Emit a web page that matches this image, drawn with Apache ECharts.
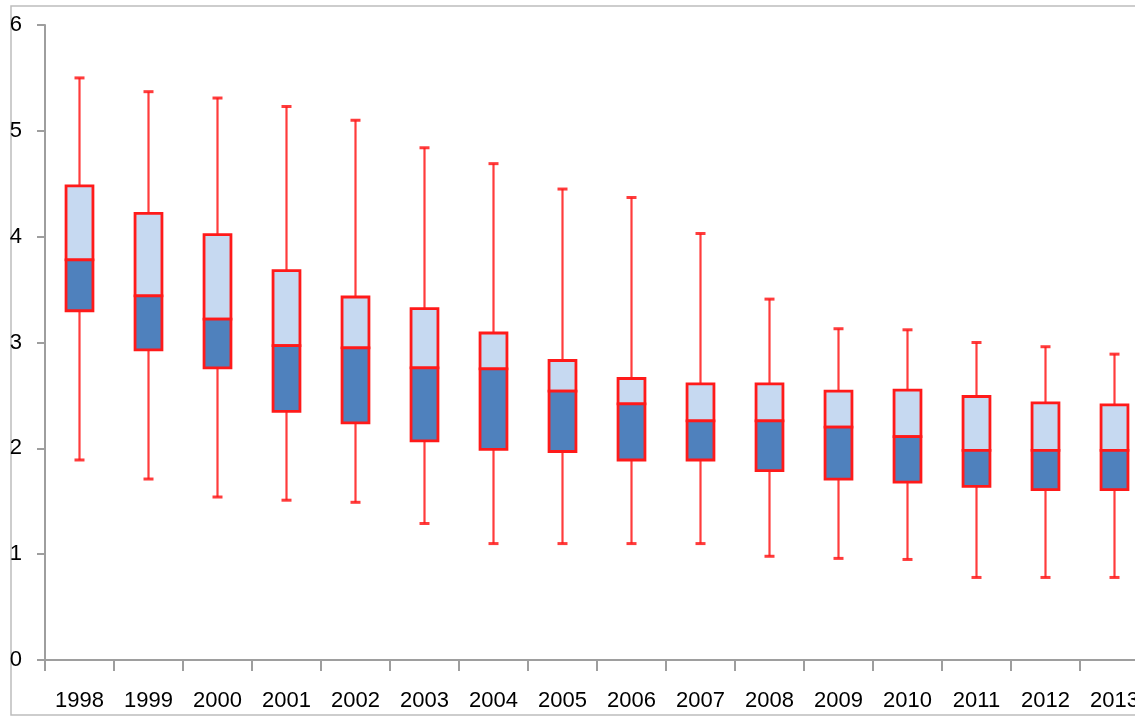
<!DOCTYPE html>
<html>
<head>
<meta charset="utf-8">
<script src="https://cdn.jsdelivr.net/npm/echarts@6/dist/echarts.min.js"></script>
<style>
  html, body { margin: 0; padding: 0; background: #fff; }
  #chart { width: 1135px; height: 718px; }
</style>
</head>
<body>
<div id="chart"></div>
<script>
// years on the x axis
var years = ['1998', '1999', '2000', '2001', '2002', '2003', '2004', '2005',
             '2006', '2007', '2008', '2009', '2010', '2011', '2012', '2013'];
// five-number summary per year
var lowValues    = [1.89, 1.71, 1.54, 1.51, 1.49, 1.29, 1.10, 1.10, 1.10, 1.10, 0.98, 0.96, 0.95, 0.78, 0.78, 0.78];
var q1Values     = [3.30, 2.93, 2.76, 2.35, 2.24, 2.07, 1.99, 1.97, 1.89, 1.89, 1.79, 1.71, 1.68, 1.64, 1.61, 1.61];
var medianValues = [3.78, 3.44, 3.22, 2.97, 2.95, 2.76, 2.75, 2.54, 2.42, 2.26, 2.26, 2.20, 2.11, 1.98, 1.98, 1.98];
var q3Values     = [4.48, 4.22, 4.02, 3.68, 3.43, 3.32, 3.09, 2.83, 2.66, 2.61, 2.61, 2.54, 2.55, 2.49, 2.43, 2.41];
var highValues   = [5.50, 5.37, 5.31, 5.23, 5.10, 4.84, 4.69, 4.45, 4.37, 4.03, 3.41, 3.13, 3.12, 3.00, 2.96, 2.89];
// y axis ticks
var yTicks = [0, 1, 2, 3, 4, 5, 6];

var RED = '#ff1a1a';
var DARK = '#4f81bd';
var LIGHT = '#c6d9f1';

var boxData = [];
for (var i = 0; i < years.length; i++) {
    boxData.push([i, lowValues[i], q1Values[i], medianValues[i], q3Values[i], highValues[i]]);
}

// draws whiskers + two-colour box for one year
function renderBox(params, api) {
    var x = api.value(0);
    var pLow = api.coord([x, api.value(1)]);
    var pQ1 = api.coord([x, api.value(2)]);
    var pMed = api.coord([x, api.value(3)]);
    var pQ3 = api.coord([x, api.value(4)]);
    var pHigh = api.coord([x, api.value(5)]);
    var w = api.size([1, 0])[0] * 0.39;
    var cap = 10;
    var cx = pMed[0];
    var lineStyle = { stroke: RED, lineWidth: 2.2, opacity: 0.85 };
    var capStyle = { stroke: RED, lineWidth: 3, opacity: 0.85 };
    return {
        type: 'group',
        children: [
            { type: 'line', shape: { x1: cx, y1: pHigh[1], x2: cx, y2: pQ3[1] }, style: lineStyle },
            { type: 'line', shape: { x1: cx, y1: pQ1[1], x2: cx, y2: pLow[1] }, style: lineStyle },
            { type: 'line', shape: { x1: cx - cap / 2, y1: pHigh[1], x2: cx + cap / 2, y2: pHigh[1] }, style: capStyle },
            { type: 'line', shape: { x1: cx - cap / 2, y1: pLow[1], x2: cx + cap / 2, y2: pLow[1] }, style: capStyle },
            { type: 'rect', shape: { x: cx - w / 2, y: pQ3[1], width: w, height: pMed[1] - pQ3[1] },
              style: { fill: LIGHT, stroke: RED, lineWidth: 2.8 } },
            { type: 'rect', shape: { x: cx - w / 2, y: pMed[1], width: w, height: pQ1[1] - pMed[1] },
              style: { fill: DARK, stroke: RED, lineWidth: 2.8 } }
        ]
    };
}

var myChart = echarts.init(document.getElementById('chart'));
var option = {
    animation: false,
    backgroundColor: '#fff',
    graphic: [{
        type: 'rect',
        shape: { x: 11, y: 6, width: 1135, height: 709 },
        style: { fill: 'none', stroke: '#bdbdbd', lineWidth: 1.5 },
        silent: true
    }],
    grid: { left: 45, width: 1104, top: 25, bottom: 58, outerBoundsMode: 'none' },
    xAxis: {
        type: 'category',
        data: years,
        boundaryGap: true,
        axisLine: { lineStyle: { color: '#9e9e9e', width: 2 } },
        axisTick: { show: true, alignWithLabel: false, length: 11, lineStyle: { color: '#9e9e9e', width: 2 } },
        axisLabel: { color: '#000', fontSize: 22, fontFamily: 'Liberation Sans', margin: 30 },
        splitLine: { show: false }
    },
    yAxis: {
        type: 'value',
        min: yTicks[0],
        max: yTicks[yTicks.length - 1],
        interval: 1,
        axisLine: { show: true, lineStyle: { color: '#9e9e9e', width: 2 } },
        axisTick: { show: true, length: 8, lineStyle: { color: '#9e9e9e', width: 2 } },
        axisLabel: { color: '#000', fontSize: 22, fontFamily: 'Liberation Sans', margin: 23 },
        splitLine: { show: false }
    },
    series: [{
        type: 'custom',
        renderItem: renderBox,
        encode: { x: 0, y: [1, 2, 3, 4, 5] },
        data: boxData
    }]
};
myChart.setOption(option);
</script>
</body>
</html>
